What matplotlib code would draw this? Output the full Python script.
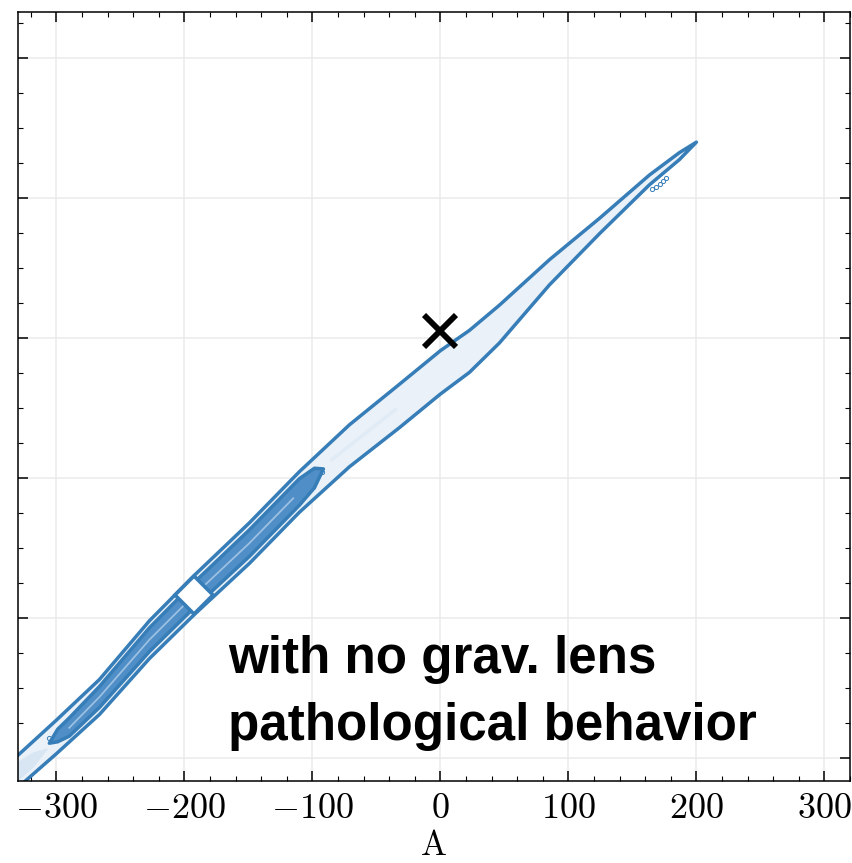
import matplotlib
matplotlib.use("Agg")
import matplotlib.pyplot as plt
from matplotlib.ticker import MultipleLocator

# ridge of the outer contour: A, B and vertical half width (B units)
outer_A = [-344.5, -330.5, -300.0, -266.4, -227.3, -192.2, -149.2, -110.2, -71.1,
           -32.0, 0.0, 22.7, 46.1, 85.2, 124.2, 163.3, 186.7, 200.0]
outer_B = [-65.0, -62.0, -57.0, -51.3, -43.1, -36.7, -29.3, -22.0, -15.4,
           -9.7, -4.9, -1.9, 2.0, 9.4, 16.0, 22.6, 26.0, 28.0]
outer_hw = [2.3, 2.3, 2.4, 2.5, 2.7, 2.8, 2.9, 2.9, 3.0,
            3.1, 3.1, 3.0, 2.7, 1.8, 1.1, 0.7, 0.5, 0.0]

# ridge of the inner contour
inner_A = [-305.5, -299.0, -290.0, -266.4, -227.3, -192.2, -149.2, -110.2, -98.4, -91.4]
inner_B = [-57.9, -56.8, -55.6, -51.3, -43.1, -36.7, -29.3, -22.0, -20.0, -18.7]
inner_hw = [0.0, 0.9, 1.3, 1.5, 1.7, 1.8, 1.9, 1.9, 1.4, 0.0]

# light streak in the middle of the inner contour
stripe_A = [-290.0, -266.4, -227.3, -192.2, -149.2, -115.0]
stripe_B = [-55.7, -51.3, -43.1, -36.7, -29.3, -22.9]

# faint shading inside the outer contour
shade_A = [-340.0, -330.5, -318.0, -306.0]
shade_B = [-64.0, -62.0, -60.3, -58.6]
shade_hw = [1.4, 1.4, 1.1, 0.0]
streak_A = [-85.0, -60.0, -35.0]
streak_B = [-17.4, -13.8, -10.2]

# tiny contour islands
island_A = [165.6, 168.8, 171.9, 174.2, 176.6, -92.2, -305.5]
island_B = [21.3, 21.6, 22.0, 22.4, 22.9, -19.1, -57.1]

truth_A, truth_B = 0.0, 1.0
best_A, best_B = -192.2, -36.7

label_lines = ["with no grav. lens", "pathological behavior"]

blue = "#377eb8"

plt.rcParams["font.family"] = "serif"
plt.rcParams["font.serif"] = ["cmr10"]
plt.rcParams["mathtext.fontset"] = "cm"
plt.rcParams["axes.formatter.use_mathtext"] = True

fig = plt.figure(figsize=(8.53, 8.63), dpi=100)
ax = fig.add_axes([18 / 853, 1 - 781 / 863, 832 / 853, 769 / 863])


def band(A, B, hw):
    up = [b + h for b, h in zip(B, hw)]
    lo = [b - h for b, h in zip(B, hw)]
    return list(A) + list(A[::-1]), up + lo[::-1]


xs, ys = band(outer_A, outer_B, outer_hw)
ax.fill(xs, ys, facecolor="#eaf1f8", edgecolor="none", zorder=2)
xs, ys = band(shade_A, shade_B, shade_hw)
ax.fill(xs, ys, facecolor="#d8e6f3", edgecolor="none", zorder=2)
ax.plot(streak_A, streak_B, color="#e0ebf6", lw=2.5, solid_capstyle="round", zorder=2)
xs, ys = band(outer_A, outer_B, outer_hw)
ax.fill(xs, ys, facecolor="none", edgecolor=blue, lw=2.5, joinstyle="round", zorder=2)
xs, ys = band(inner_A, inner_B, inner_hw)
ax.fill(xs, ys, facecolor="#4f8ec6", edgecolor=blue, lw=2.5, joinstyle="round", zorder=3)
ax.plot(stripe_A, stripe_B, color="#9cc0e2", lw=1.3, zorder=4)
ax.plot(island_A, island_B, "o", ms=3, mfc="none", mec=blue, mew=0.7, zorder=4)

ax.plot(best_A, best_B, marker="D", ms=19, mfc="white", mec=blue, mew=2.6, zorder=5)
ax.plot(truth_A, truth_B, marker="x", ms=23, color="black", mew=4.2, zorder=6)

ax.set_xlim(-330, 320)
ax.set_ylim(-63.3, 46.6)
ax.xaxis.set_major_locator(MultipleLocator(100))
ax.xaxis.set_minor_locator(MultipleLocator(20))
ax.yaxis.set_major_locator(MultipleLocator(20))
ax.yaxis.set_minor_locator(MultipleLocator(5))
ax.grid(True, which="major", color="#ebebeb", lw=1.1, zorder=0)
ax.set_axisbelow(True)
ax.tick_params(which="both", direction="in", top=True, right=True, labelleft=False)
ax.tick_params(which="major", length=7.5, width=1.1, labelsize=26, pad=9)
ax.tick_params(which="minor", length=3.8, width=0.8)
for s in ax.spines.values():
    s.set_linewidth(1.1)
ax.set_xlabel("A", fontsize=25, labelpad=4)

# text block, width fitted to the reference
t1 = ax.text(0.2524, 0.1404, label_lines[0], transform=ax.transAxes, ha="left",
             va="baseline", fontsize=36, fontweight="bold", family="Liberation Sans")
t2 = ax.text(0.2524, 0.0533, label_lines[1], transform=ax.transAxes, ha="left",
             va="baseline", fontsize=36, fontweight="bold", family="Liberation Sans")
fig.canvas.draw()
w = t2.get_window_extent().width
fs = 36 * 529 / w
t1.set_fontsize(fs)
t2.set_fontsize(fs)

fig.savefig("out.png", dpi=100)
